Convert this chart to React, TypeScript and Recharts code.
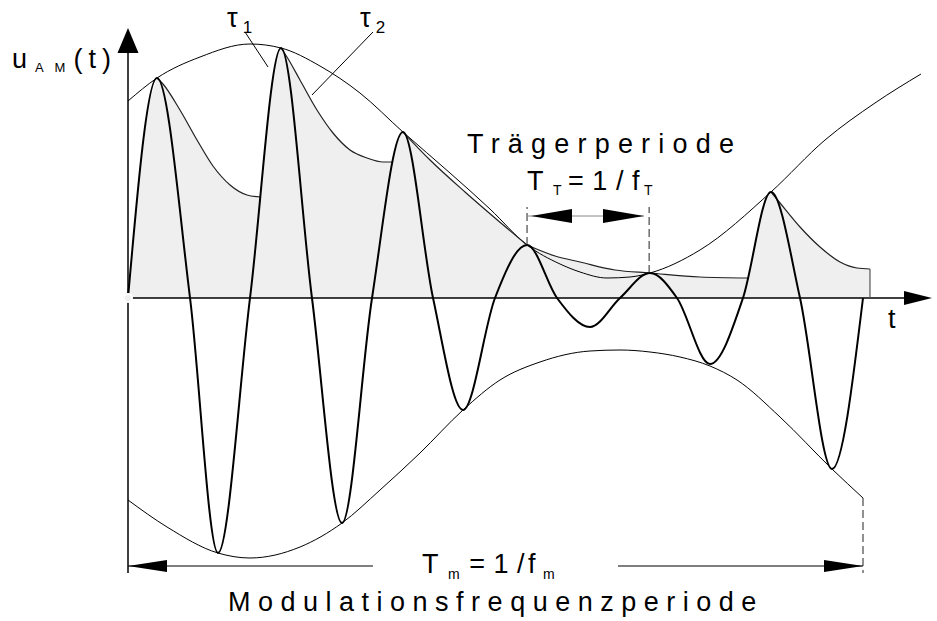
import { ComposedChart, XAxis, YAxis, Line, Area, ReferenceLine, ReferenceDot } from 'recharts';

type Pt = [number, number];

// t in ms (one modulation period T_m = 10 ms), u in V
// AM carrier: start, peaks, zero crossings and troughs
const signal: Pt[] = [
  [0, 0], [0.395, 4.4], [0.844, 0], [1.224, -5.1], [1.66, 0], [2.082, 5.0], [2.503, 0],
  [2.912, -4.5], [3.32, 0], [3.741, 3.32], [4.15, 0], [4.558, -2.24], [4.993, 0],
  [5.429, 1.06], [5.837, 0], [6.286, -0.58], [6.694, 0], [7.102, 0.5], [7.469, 0],
  [7.918, -1.32], [8.367, 0], [8.748, 2.12], [9.143, 0], [9.578, -3.42], [10.0, 0],
];

const upperEnvelope: Pt[] = [
  [0, 3.94], [0.395, 4.4], [0.98, 4.82], [1.66, 5.08], [2.082, 5.0], [2.612, 4.64],
  [3.156, 4.1], [3.741, 3.32], [4.381, 2.5], [4.925, 1.78], [5.429, 1.06], [5.878, 0.68],
  [6.15, 0.52], [6.517, 0.4], [6.83, 0.42], [7.102, 0.5], [7.782, 0.96], [8.748, 2.12],
  [9.483, 3.16], [10.163, 3.9], [10.789, 4.48],
];

const lowerEnvelope: Pt[] = [
  [0, -4.04], [0.531, -4.58], [1.224, -5.1], [1.66, -5.2], [2.34, -4.98], [2.912, -4.5],
  [3.429, -3.84], [3.973, -3.1], [4.558, -2.24], [5.061, -1.64], [5.605, -1.28],
  [6.286, -1.06], [6.694, -1.04], [7.102, -1.08], [7.51, -1.18], [7.918, -1.36],
  [8.286, -1.64], [8.871, -2.38], [9.578, -3.42], [10.0, -4.0],
];

// detector discharge after each peak (tau1 fast, tau2 slow)
const decay1: Pt[] = [
  [0.395, 4.4], [0.476, 4.28], [0.707, 3.76], [0.939, 3.16], [1.156, 2.64], [1.388, 2.26],
  [1.619, 2.06], [1.799, 2.02],
];
const decay2: Pt[] = [
  [2.082, 5.0], [2.163, 4.82], [2.34, 4.36], [2.571, 3.76], [2.789, 3.3], [3.02, 2.96],
  [3.252, 2.8], [3.469, 2.72], [3.602, 2.72],
];
const decay3: Pt[] = [[3.741, 3.32], [4.109, 2.76], [4.585, 2.12], [4.993, 1.6], [5.429, 1.06]];
const decay4: Pt[] = [
  [5.429, 1.06], [5.81, 0.84], [6.15, 0.72], [6.626, 0.56], [7.102, 0.5], [7.782, 0.42],
  [8.431, 0.4],
];
const decay6: Pt[] = [
  [8.748, 2.12], [8.871, 1.9], [9.143, 1.42], [9.415, 1.02], [9.687, 0.72], [9.918, 0.6],
  [10.095, 0.58],
];

// parts where the detector output follows the rising carrier
const rise1: Pt[] = [[0, 0], [0.118, 1.92], [0.277, 3.87]];
const rise2: Pt[] = [[1.913, 3.72], [1.998, 4.64]];
const rise3: Pt[] = [[3.678, 3.18]];
const rise6: Pt[] = [[8.519, 1.05], [8.634, 1.8]];

const tau1Pointer: Pt[] = [[1.592, 5.32], [1.905, 4.62]];
const tau2Pointer: Pt[] = [[3.333, 5.32], [2.503, 4.06]];

const carrierPeriod = [5.429, 7.09];
const carrierArrowLevel = 1.64;
const carrierMarkTop = 1.82;
const modPeriod = [0, 10];
const modArrowLevel = -5.36;
const modGap = [3.333, 6.667];

const arrowHeads = [
  { t: 0, u: 5.4, dir: 'up', kind: 'axisY' },
  { t: 10.939, u: 0, dir: 'right', kind: 'axisX' },
  { t: 5.483, u: 1.64, dir: 'left', kind: 'dim' },
  { t: 7.02, u: 1.64, dir: 'right', kind: 'dim' },
  { t: 0, u: -5.36, dir: 'left', kind: 'dimLong' },
  { t: 10.0, u: -5.36, dir: 'right', kind: 'dimLong' },
];

const labelAnchors = [
  { key: 'uam', t: -1.578, u: 4.6 },
  { key: 'tau1', t: 1.347, u: 5.42 },
  { key: 'tau2', t: 3.156, u: 5.42 },
  { key: 't', t: 10.34, u: -0.6 },
  { key: 'carrier', t: 4.612, u: 2.9 },
  { key: 'tt', t: 5.429, u: 2.16 },
  { key: 'tm', t: 4.0, u: -5.5 },
  { key: 'mod', t: 1.361, u: -6.26 },
];

const rows = (pts: Pt[]) => pts.map(([t, u]) => ({ t, u }));
const detectorFill = [
  ...rise1, ...decay1, ...rise2, ...decay2, ...rise3, ...decay3, ...decay4, ...rise6, ...decay6,
];

const FONT = "'Liberation Sans', Arial, sans-serif";
const ARROW_SIZE: Record<string, [number, number]> = {
  axisY: [25, 10.5],
  axisX: [28, 7],
  dim: [41, 7],
  dimLong: [39, 6],
};

const arrowShape = (dir: string, kind: string) => (p: any) => {
  const { cx, cy } = p;
  const [L, W] = ARROW_SIZE[kind];
  let pts = '';
  if (dir === 'up') pts = `${cx},${cy} ${cx - W},${cy + L} ${cx + W},${cy + L}`;
  if (dir === 'right') pts = `${cx},${cy} ${cx - L},${cy - W} ${cx - L},${cy + W}`;
  if (dir === 'left') pts = `${cx},${cy} ${cx + L},${cy - W} ${cx + L},${cy + W}`;
  return <polygon points={pts} fill="#000" />;
};

const labelContent = (key: string, x: number, y: number) => {
  const base = { x, y, fontFamily: FONT, fill: '#000', fontSize: 27 };
  switch (key) {
    case 'uam':
      return (
        <text {...base}>
          u
          <tspan fontSize={13} dx={8} dy={4} letterSpacing={4}>A M</tspan>
          <tspan dx={4} dy={-4} letterSpacing={6}>(t)</tspan>
        </text>
      );
    case 'tau1':
      return (
        <text {...base}>
          τ<tspan fontSize={17} dx={5} dy={6}>1</tspan>
        </text>
      );
    case 'tau2':
      return (
        <text {...base}>
          τ<tspan fontSize={17} dx={5} dy={6}>2</tspan>
        </text>
      );
    case 't':
      return <text {...base}>t</text>;
    case 'carrier':
      return <text {...base} letterSpacing={8.2}>Trägerperiode</text>;
    case 'tt':
      return (
        <text {...base} letterSpacing={0.5}>
          T<tspan fontSize={14} dx={9} dy={5}>T</tspan>
          <tspan dx={6} dy={-5}>= 1 /</tspan>
          <tspan dx={8}>f</tspan>
          <tspan fontSize={14} dx={4} dy={5}>T</tspan>
        </text>
      );
    case 'tm':
      return (
        <text {...base} letterSpacing={0.5}>
          T<tspan fontSize={14} dx={9} dy={6}>m</tspan>
          <tspan dx={9} dy={-6}>= 1 /</tspan>
          <tspan dx={3}>f</tspan>
          <tspan fontSize={14} dx={7} dy={6}>m</tspan>
        </text>
      );
    case 'mod':
      return <text {...base} letterSpacing={7.5}>Modulationsfrequenzperiode</text>;
    default:
      return null;
  }
};

export default function App() {
  const thin = { dot: false, activeDot: false, isAnimationActive: false, type: 'monotone' as const };
  return (
    <div style={{ width: 937, height: 621, background: '#fff' }}>
      <style>{'body{margin:0}'}</style>
      <ComposedChart width={937} height={621} margin={{ top: 0, right: 0, bottom: 0, left: 0 }}>
        <XAxis type="number" dataKey="t" domain={[-1.7415, 11.0068]} allowDataOverflow hide />
        <YAxis type="number" dataKey="u" domain={[-6.46, 5.96]} allowDataOverflow hide />

        <Area
          data={rows(detectorFill)}
          dataKey="u"
          type="linear"
          baseValue={0}
          fill="#efefef"
          fillOpacity={1}
          stroke="none"
          isAnimationActive={false}
        />

        <ReferenceLine segment={[{ x: 0, y: -5.5 }, { x: 0, y: 5.0 }]} stroke="#000" strokeWidth={1.5} />
        <ReferenceLine segment={[{ x: 0, y: 0 }, { x: 10.6, y: 0 }]} stroke="#000" strokeWidth={1.5} />

        <Line data={rows(upperEnvelope)} dataKey="u" stroke="#000" strokeWidth={1} {...thin} />
        <Line data={rows(lowerEnvelope)} dataKey="u" stroke="#000" strokeWidth={1} {...thin} />
        <Line data={rows(decay1)} dataKey="u" stroke="#222" strokeWidth={1.2} {...thin} />
        <Line data={rows(decay2)} dataKey="u" stroke="#222" strokeWidth={1.2} {...thin} />
        <Line data={rows(decay3)} dataKey="u" stroke="#222" strokeWidth={1.2} {...thin} />
        <Line data={rows(decay4)} dataKey="u" stroke="#222" strokeWidth={1.2} {...thin} />
        <Line data={rows(decay6)} dataKey="u" stroke="#222" strokeWidth={1.2} {...thin} />
        <Line data={rows(tau1Pointer)} dataKey="u" stroke="#000" strokeWidth={1} {...thin} type="linear" />
        <Line data={rows(tau2Pointer)} dataKey="u" stroke="#000" strokeWidth={1} {...thin} type="linear" />
        <Line data={rows(signal)} dataKey="u" stroke="#000" strokeWidth={2} {...thin} />

        <ReferenceLine
          segment={[
            { x: decay6[decay6.length - 1][0], y: 0 },
            { x: decay6[decay6.length - 1][0], y: decay6[decay6.length - 1][1] },
          ]}
          stroke="#555"
          strokeWidth={1.2}
        />

        {carrierPeriod.map((t, i) => (
          <ReferenceLine
            key={`cp${i}`}
            segment={[{ x: t, y: i === 0 ? 1.06 : 0.5 }, { x: t, y: carrierMarkTop }]}
            stroke="#222"
            strokeDasharray="8 4"
          />
        ))}
        <ReferenceLine
          segment={[{ x: carrierPeriod[0], y: carrierArrowLevel }, { x: carrierPeriod[1] - 0.07, y: carrierArrowLevel }]}
          stroke="#888"
        />
        <ReferenceLine
          segment={[{ x: modPeriod[1], y: -4.0 }, { x: modPeriod[1], y: -5.5 }]}
          stroke="#222"
          strokeDasharray="8 4"
        />
        <ReferenceLine segment={[{ x: modPeriod[0], y: modArrowLevel }, { x: modGap[0], y: modArrowLevel }]} stroke="#000" />
        <ReferenceLine segment={[{ x: modGap[1], y: modArrowLevel }, { x: modPeriod[1], y: modArrowLevel }]} stroke="#000" />

        {arrowHeads.map((a, i) => (
          <ReferenceDot key={`ah${i}`} x={a.t} y={a.u} r={0} ifOverflow="visible" shape={arrowShape(a.dir, a.kind)} />
        ))}
        {labelAnchors.map((l) => (
          <ReferenceDot
            key={l.key}
            x={l.t}
            y={l.u}
            r={0}
            ifOverflow="visible"
            shape={(p: any) => labelContent(l.key, p.cx, p.cy)}
          />
        ))}
      </ComposedChart>
    </div>
  );
}
